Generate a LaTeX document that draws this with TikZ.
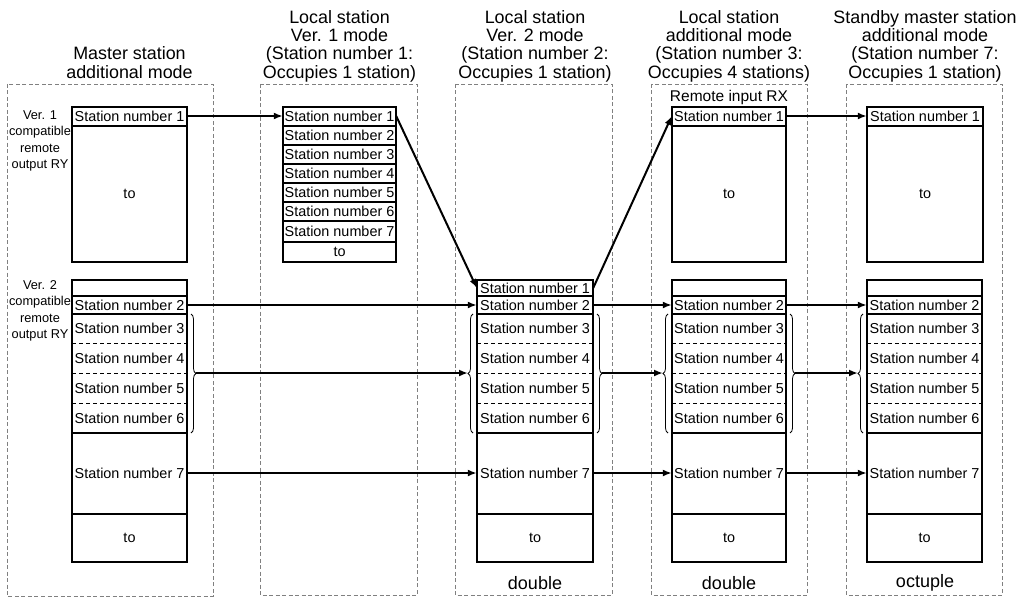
\documentclass[tikz,border=0pt]{standalone}
\usepackage{fontspec}
\setmainfont{Liberation Sans}
\usetikzlibrary{arrows.meta,decorations.pathreplacing}

\tikzset{
  panel/.style={draw=black!50, dash pattern=on 4pt off 2.5pt, line width=0.7pt},
  boxline/.style={draw=black, line width=1.2pt},
  rowdash/.style={draw=black, line width=0.7pt, dash pattern=on 4pt off 3pt},
  cell/.style={inner sep=0pt, font=\fontsize{14.4}{16}\selectfont},
  link/.style={line width=2pt, -{Latex[length=9pt,width=7pt]}},
  bracestyle/.style={decorate, decoration={brace, amplitude=5pt}, line width=0.8pt},
  title/.style={align=center, anchor=north, inner sep=0pt, font=\fontsize{17.9}{18.3}\selectfont},
  side/.style={align=center, inner sep=0pt, font=\fontsize{12.8}{16.5}\selectfont},
  foot/.style={inner sep=0pt, font=\fontsize{18}{20}\selectfont},
  rxlabel/.style={inner sep=0pt, font=\fontsize{15.5}{17}\selectfont},
}

% lower box: #1 prefix, #2 x0, #3 x1, #4 first row text
\newcommand{\lowbox}[4]{%
  \draw[boxline] (#2,280) rectangle (#3,562);
  \foreach \yy in {296,314,433,514} {\draw[boxline] (#2,\yy) -- (#3,\yy);}
  \foreach \yy in {343,373,403} {\draw[rowdash] (#2,\yy) -- (#3,\yy);}
  \node[cell, minimum width={#3-#2}, minimum height=16] (#1r1) at ({(#2+#3)/2},288) {#4};
  \node[cell, minimum width={#3-#2}, minimum height=18] (#1r2) at ({(#2+#3)/2},305) {Station number 2};
  \node[cell, minimum width={#3-#2}, minimum height=28] (#1r3) at ({(#2+#3)/2},328) {Station number 3};
  \node[cell, minimum width={#3-#2}, minimum height=30] (#1r4) at ({(#2+#3)/2},358) {Station number 4};
  \node[cell, minimum width={#3-#2}, minimum height=30] (#1r5) at ({(#2+#3)/2},388) {Station number 5};
  \node[cell, minimum width={#3-#2}, minimum height=30] (#1r6) at ({(#2+#3)/2},418) {Station number 6};
  \node[cell, minimum width={#3-#2}, minimum height=80] (#1r7) at ({(#2+#3)/2},473) {Station number 7};
  \node[cell, minimum width={#3-#2}, minimum height=48] (#1r8) at ({(#2+#3)/2},538) {to};
}

% upper box: #1 prefix, #2 x0, #3 x1
\newcommand{\upbox}[3]{%
  \draw[boxline] (#2,107) rectangle (#3,262);
  \draw[boxline] (#2,126) -- (#3,126);
  \node[cell, minimum width={#3-#2}, minimum height=18] (#1s1) at ({(#2+#3)/2},116) {Station number 1};
  \node[cell] (#1to) at ({(#2+#3)/2},194) {to};
}

\begin{document}
\begin{tikzpicture}[x=1pt,y=-1pt]
\useasboundingbox (0,0) rectangle (1024,599);

% panels
\draw[panel] (7,84) rectangle (213,596);
\draw[panel] (260,84) rectangle (417,595);
\draw[panel] (455,84) rectangle (612,595);
\draw[panel] (651,84) rectangle (807,595);
\draw[panel] (846,84) rectangle (1002,595);

% titles
\node[title] (t1) at (129.5,46.7) {Master station\\additional mode};
\node[title] (t2) at (339.5,10.2) {Local station\\Ver. 1 mode\\(Station number 1:\\Occupies 1 station)};
\node[title] (t3) at (535,10.2) {Local station\\Ver. 2 mode\\(Station number 2:\\Occupies 1 station)};
\node[title] (t4) at (729,10.2) {Local station\\additional mode\\(Station number 3:\\Occupies 4 stations)};
\node[title] (t5) at (925,10.2) {Standby master station\\additional mode\\(Station number 7:\\Occupies 1 station)};

% side labels
\node[side] (v1) at (40,141) {Ver. 1\\compatible\\remote\\output RY};
\node[side] (v2) at (40,311) {Ver. 2\\compatible\\remote\\output RY};
\node[rxlabel] (rx) at (729,97) {Remote input RX};

% upper boxes
\upbox{m}{72}{187}
\upbox{d}{672}{786}
\upbox{s}{867}{983}

% local station ver.1 box
\draw[boxline] (283,107) rectangle (396,262);
\foreach \yy in {126,145,164,183,202,221,242} {\draw[boxline] (283,\yy) -- (396,\yy);}
\node[cell, minimum width=113, minimum height=18] (a1) at (339.5,116) {Station number 1};
\node[cell, minimum width=113, minimum height=18] (a2) at (339.5,135.5) {Station number 2};
\node[cell, minimum width=113, minimum height=18] (a3) at (339.5,154.5) {Station number 3};
\node[cell, minimum width=113, minimum height=18] (a4) at (339.5,173.5) {Station number 4};
\node[cell, minimum width=113, minimum height=18] (a5) at (339.5,192.5) {Station number 5};
\node[cell, minimum width=113, minimum height=18] (a6) at (339.5,211.5) {Station number 6};
\node[cell, minimum width=113, minimum height=20] (a7) at (339.5,231.5) {Station number 7};
\node[cell, minimum width=113, minimum height=19] (a8) at (339.5,252) {to};

% lower boxes
\lowbox{ml}{72}{187}{}
\lowbox{bl}{477}{593}{Station number 1}
\lowbox{dl}{672}{786}{}
\lowbox{sl}{867}{982}{}

% braces
\draw[bracestyle] (191,314) -- (191,433);
\coordinate (mbr) at (196,373);
\draw[bracestyle] (473,433) -- (473,314);
\coordinate (bbl) at (468,373);
\draw[bracestyle] (597,314) -- (597,433);
\coordinate (bbr) at (602,373);
\draw[bracestyle] (668,433) -- (668,314);
\coordinate (dbl) at (663,373);
\draw[bracestyle] (790,314) -- (790,433);
\coordinate (dbr) at (795,373);
\draw[bracestyle] (863,433) -- (863,314);
\coordinate (sbl) at (858,373);

% footers
\node[foot] (f3) at (535,583) {double};
\node[foot] (f4) at (729,583) {double};
\node[foot] (f5) at (925,583) {octuple};

% connectors
\draw[link] (ms1.east) -- (a1.west);
\draw[link] (a1.east) -- (blr1.west);
\draw[link] (blr1.east) -- (ds1.west);
\draw[link] (ds1.east) -- (ss1.west);

\draw[link] (mlr2.east) -- (blr2.west);
\draw[link] (blr2.east) -- (dlr2.west);
\draw[link] (dlr2.east) -- (slr2.west);

\draw[link] (mbr) -- (bbl);
\draw[link] (bbr) -- (dbl);
\draw[link] (dbr) -- (sbl);

\draw[link] (mlr7.east) -- (blr7.west);
\draw[link] (blr7.east) -- (dlr7.west);
\draw[link] (dlr7.east) -- (slr7.west);
\end{tikzpicture}
\end{document}
